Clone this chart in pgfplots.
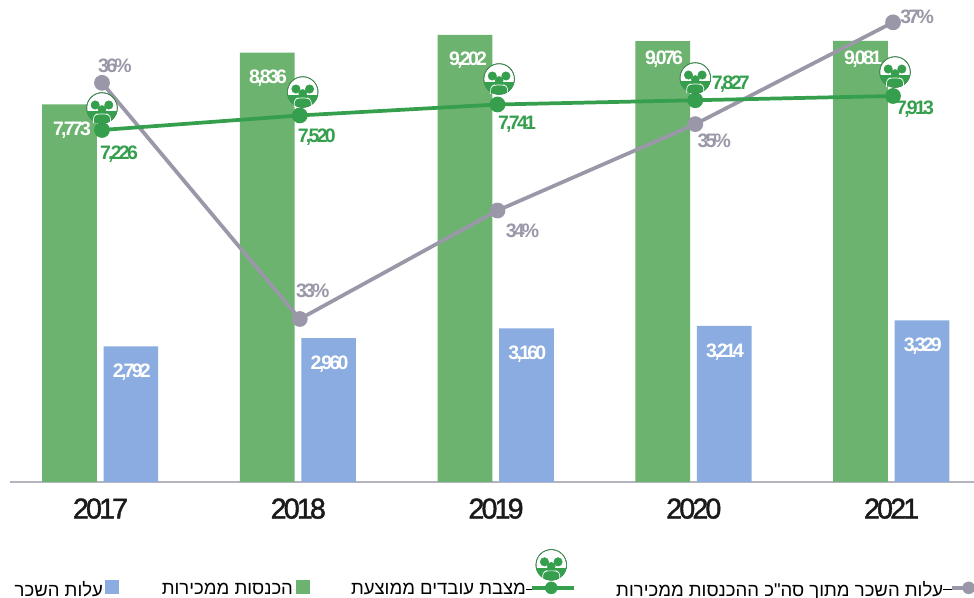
\documentclass[border=0pt]{standalone}
\usepackage{fontspec}
\usepackage{pgfplots}
\pgfplotsset{compat=1.18}
\TeXXeTstate=1
\setmainfont{Liberation Sans}
\newfontfamily\heb[Script=Hebrew]{Liberation Sans}
\newfontfamily\tightf[LetterSpace=-14]{Liberation Sans}
\newfontfamily\yearf[LetterSpace=-10,FakeBold=1.5]{Liberation Sans}
\definecolor{barg}{HTML}{6BB36E}
\definecolor{barb}{HTML}{8AACE0}
\definecolor{lineg}{HTML}{359F4E}
\definecolor{lineq}{HTML}{9A98A8}
\definecolor{axisc}{HTML}{B4B4C0}
\definecolor{txt}{HTML}{1A1A1A}
\newcommand{\lblfont}{\tightf\bfseries\fontsize{14.6pt}{15pt}\selectfont}
\newcommand{\yearfont}{\yearf\fontsize{21.5pt}{22pt}\selectfont}
\newcommand{\legfont}{\heb\fontsize{13.9pt}{14pt}\selectfont}
\newcommand{\lab}[6]{\node[text=#6,font=\lblfont,inner sep=0pt,anchor=center,xshift=#3*0.75pt,yshift=#4*0.75pt] at (axis cs:#1,#2) {#5};}
\newcommand{\peopleicon}{%
  \begin{scope}[x=0.75pt,y=0.75pt]
    \fill[white] (0,0) circle (15.3);
    \begin{scope}
      \clip (0,0) circle (15.3);
      \fill[lineg] (-16,-16) rectangle (16,-3.5);
    \end{scope}
    \draw[lineg,line width=0.5pt] (0,0) circle (15.3);
    \fill[lineg] (-6.8,3) circle (4.2);
    \fill[lineg] (6.8,3) circle (4.2);
    \fill[lineg] (0,-1.5) circle (4);
    \draw[white,line width=0.5pt,rounded corners=2pt] (-8.5,-15) -- (-8.5,-8) -- (-5,-6) -- (5,-6) -- (8.5,-8) -- (8.5,-15);
  \end{scope}}
\pgfdeclareplotmark{people}{\peopleicon}
\pgfplotsset{base/.style={
  scale only axis, width=723pt, height=361.5pt,
  at={(7.5pt,87pt)}, anchor=south west, clip=false}}
\begin{document}
\begin{tikzpicture}
\path[use as bounding box] (0,0) rectangle (730.5pt,448.5pt);
% bars
\begin{axis}[base,
  xmin=2016.5424, xmax=2021.417, ymin=0, ymax=9922,
  axis x line=bottom, axis y line=none,
  axis line style={draw=axisc,line width=0.8pt,-},
  xtick={2017,2018,2019,2020,2021},
  major tick length=0pt,
  x tick label style={/pgf/number format/1000 sep={},/pgf/number format/assume math mode=true,font=\yearfont,text=txt,anchor=center,yshift=-20pt},
  legend columns=4,
  legend plot pos=right,
  legend cell align=right,
  legend style={at={(4/964,-107/482)},anchor=west,draw=none,fill=none,inner sep=0pt,outer sep=0pt,
    nodes={inner sep=0pt,outer sep=0pt},
    column sep=0pt,row sep=0pt},
]
\addplot[ybar,bar width=41pt,bar shift=22.8pt,fill=barb,draw=none,
  nodes near coords,
  /pgf/number format/1000 sep={,},/pgf/number format/assume math mode=true,
  every node near coord/.append style={font=\lblfont,text=white,anchor=center,yshift=-19.6pt,xshift=23.5pt},
  legend image code/.code={\path (0,0) -- (12pt,0);\fill[barb] (1.5pt,-3.3pt) rectangle (12pt,7.2pt);}]
  coordinates {(2017,2792) (2018,2960) (2019,3160) (2020,3214) (2021,3329)};
\addlegendentry{\makebox[66.75pt][r]{\legfont\beginR עלות השכר\endR}}
\addplot[ybar,bar width=41pt,bar shift=-23.25pt,fill=barg,draw=none,
  legend image code/.code={\path (0,0) -- (12.75pt,0);\fill[barg] (2.25pt,-3.3pt) rectangle (12.75pt,7.2pt);}]
  coordinates {(2017,7773) (2018,8836) (2019,9202) (2020,9076) (2021,9081)};
\addlegendentry{\makebox[130.5pt][r]{\legfont\beginR הכנסות ממכירות\endR}}
\addlegendimage{legend image code/.code={
  \path (0,0) -- (36pt,0);
  \draw[lineg,line width=2.8pt] (4pt,1.25pt) -- (36pt,1.25pt);
  \fill[lineg] (18.75pt,1.25pt) circle (4.5pt);
  \begin{scope}[overlay,shift={(18.75pt,18.5pt)}]\peopleicon\end{scope}}}
\addlegendentry{\makebox[162pt][r]{\legfont\beginR מצבת עובדים ממוצעת\endR}}
\addlegendimage{legend image code/.code={
  \path (0,0) -- (26pt,0);
  \draw[lineq,line width=2.8pt] (6.5pt,1.25pt) -- (26pt,1.25pt);
  \fill[lineq] (19pt,1.25pt) circle (4.5pt);}}
\addlegendentry{\makebox[275.25pt][r]{\legfont\beginR עלות השכר מתוך סה"כ ההכנסות ממכירות\endR}}
% green bar labels
\lab{2017}{7773}{-28.5}{-25.6}{7,773}{white}
\lab{2018}{8836}{-30.25}{-25.3}{8,836}{white}
\lab{2019}{9202}{-28}{-25}{9,202}{white}
\lab{2020}{9076}{-29.75}{-17.9}{9,076}{white}
\lab{2021}{9081}{-28.5}{-18.2}{9,081}{white}
\end{axis}
% share of sales
\begin{axis}[base,hide axis,
  xmin=2016.5348, xmax=2021.4094, ymin=31.802, ymax=36.823]
\addplot[lineq,line width=2.8pt,mark=*,mark size=4.5pt,mark options={fill=lineq,draw=none}]
  coordinates {(2017,35.96) (2018,33.5) (2019,34.63) (2020,35.53) (2021,36.59)};
\lab{2017}{35.96}{13}{17}{36\%}{lineq}
\lab{2018}{33.5}{13}{28}{33\%}{lineq}
\lab{2019}{34.63}{25}{-20}{34\%}{lineq}
\lab{2020}{35.53}{19}{-17}{35\%}{lineq}
\lab{2021}{36.59}{24}{6}{37\%}{lineq}
\end{axis}
% employees
\begin{axis}[base,hide axis,
  xmin=2016.5348, xmax=2021.4094, ymin=113, ymax=9853]
\addplot[lineg,line width=2.8pt,mark=*,mark size=4.5pt,mark options={fill=lineg,draw=none}]
  coordinates {(2017,7226) (2018,7520) (2019,7741) (2020,7827) (2021,7913)};
\addplot[only marks,mark=people]
  coordinates {(2017,7670) (2018.015,7993) (2019.008,8256) (2020,8276) (2021.01,8397)};
\lab{2017}{7226}{17}{-24}{7,226}{lineg}
\lab{2018}{7520}{17}{-21.6}{7,520}{lineg}
\lab{2019}{7741}{19.5}{-19.5}{7,741}{lineg}
\lab{2020}{7827}{35.5}{16.3}{7,827}{lineg}
\lab{2021}{7913}{22}{-13}{7,913}{lineg}
\end{axis}
\end{tikzpicture}
\end{document}
